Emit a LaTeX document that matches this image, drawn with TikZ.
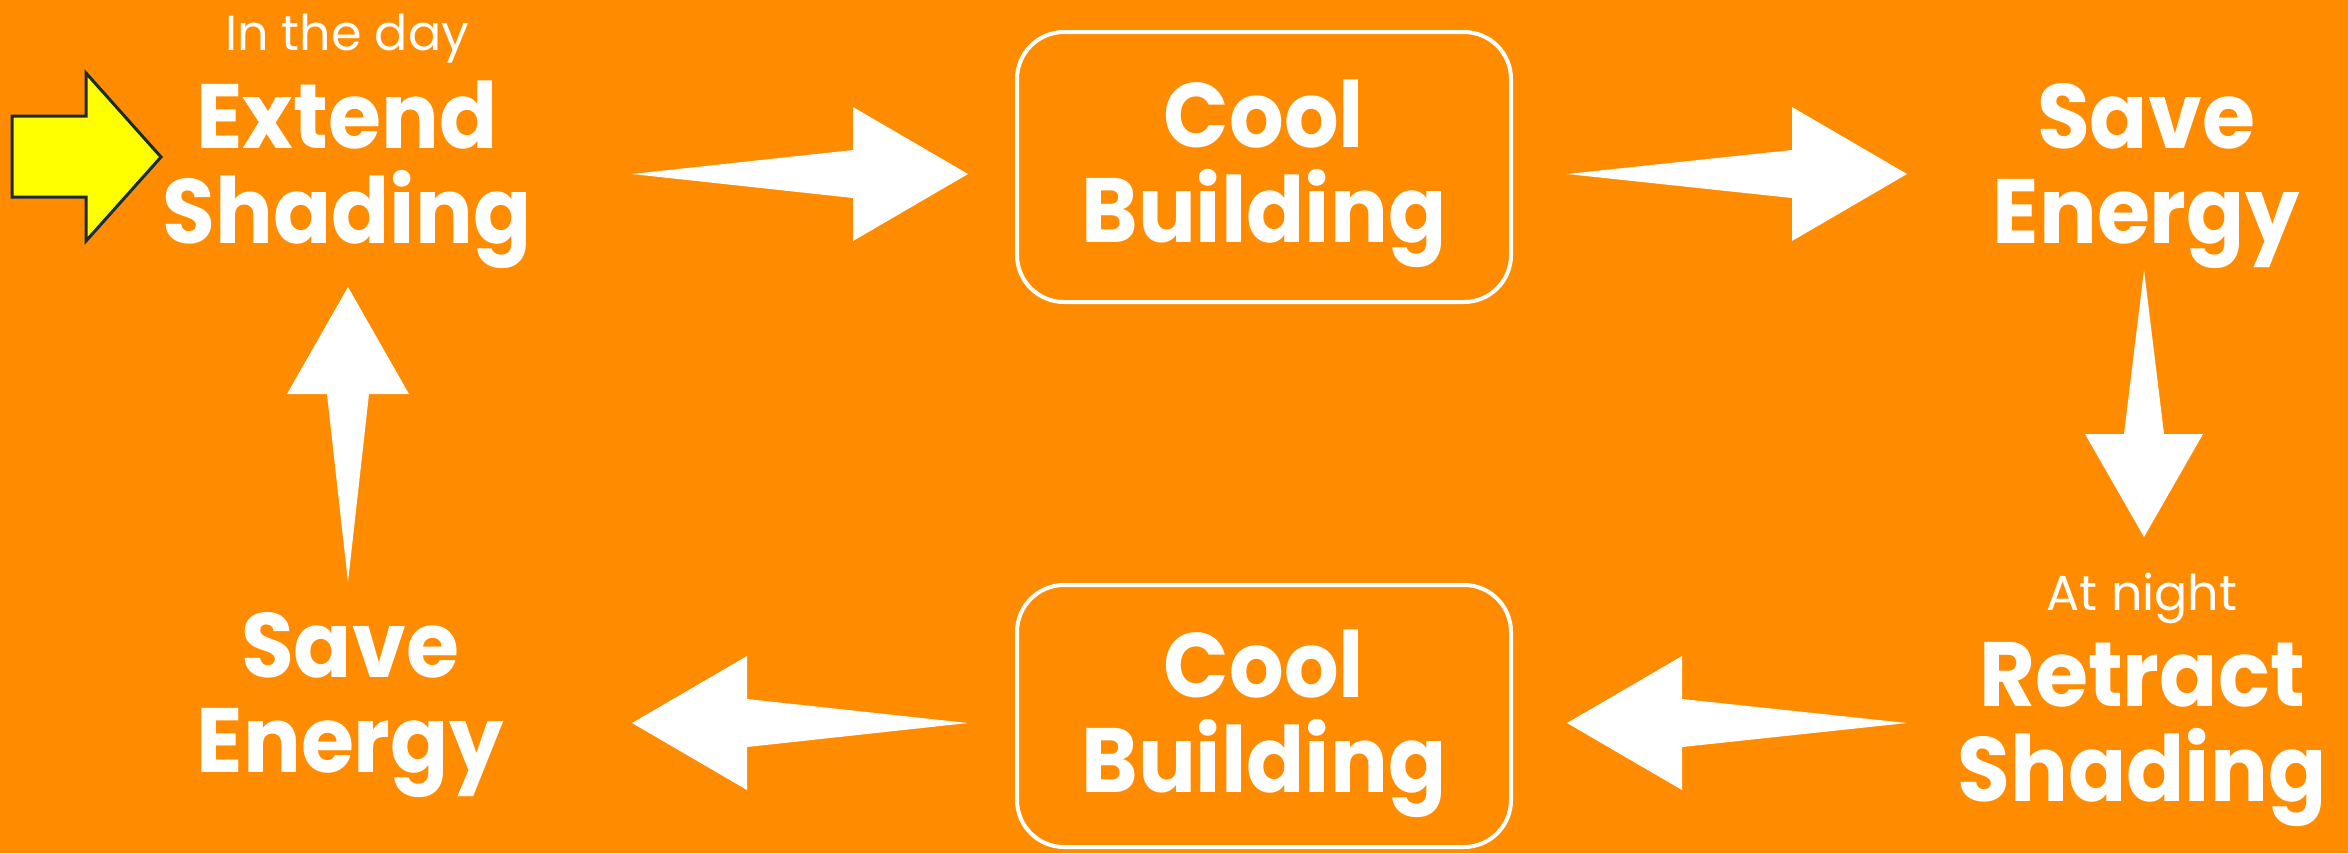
\documentclass[tikz,border=0pt]{standalone}
\usepackage{fontspec}
\setmainfont{Poppins}[BoldFeatures={FakeStretch=0.94}]
\usepackage{tikz}
\usetikzlibrary{calc}
\definecolor{dorange}{HTML}{FF8C00}
\definecolor{dyellow}{HTML}{FFFF00}
\definecolor{dnavy}{HTML}{1B2A38}

\tikzset{
  bigtxt/.style={text=white, inner sep=0pt, anchor=base,
    font=\bfseries\fontsize{26pt}{26pt}\selectfont},
  smalltxt/.style={text=white, inner sep=0pt, anchor=base,
    font=\fontsize{14pt}{14pt}\selectfont},
  coolbox/.style={draw=white, line width=0.4mm, rounded corners=4.7mm,
    minimum width=49.4mm, inner sep=0pt},
}

% fat white arrow: tail, tip, head length, shaft half width, head half width
\newcommand{\fatarrow}[5]{%
  \coordinate (hb) at ($(#2)!#3!(#1)$);
  \fill[white] (#1) -- ($(hb)!#4!90:(#2)$) -- ($(hb)!#5!90:(#2)$) -- (#2)
    -- ($(hb)!#5!-90:(#2)$) -- ($(hb)!#4!-90:(#2)$) -- cycle;}

\begin{document}
\begin{tikzpicture}[x=0.1mm,y=-0.1mm]

  % fundo
  \useasboundingbox (0,0) rectangle (2348,853);
  \fill[dorange] (0,0) rectangle (2348,853);

  % seta amarela
  \filldraw[fill=dyellow, draw=dnavy, line width=0.3mm]
    (12,116) -- (86,116) -- (86,73) -- (161,157) -- (86,241) -- (86,197) -- (12,197) -- cycle;

  % caixas
  \node[coolbox, minimum height=27mm] (cool1) at (1264,167) {};
  \node[coolbox, minimum height=26.2mm] (cool2) at (1264,716) {};

  % textos
  \node[smalltxt] (day) at (347,50) {In the day};
  \node[bigtxt] (extend) at (347,148) {Extend};
  \node[bigtxt] (shadingA) at (347,243) {Shading};
  \node[bigtxt] (coolA) at (1264,147) {Cool};
  \node[bigtxt] (buildingA) at (1264,242) {Building};
  \node[bigtxt] (save1) at (2146,148) {Save};
  \node[bigtxt] (energy1) at (2146,243) {Energy};
  \node[smalltxt] (night) at (2142,610) {At night};
  \node[bigtxt] (retract) at (2142,706) {Retract};
  \node[bigtxt] (shadingB) at (2142,801) {Shading};
  \node[bigtxt] (coolB) at (1264,697) {Cool};
  \node[bigtxt] (buildingB) at (1264,792) {Building};
  \node[bigtxt] (save2) at (350,677) {Save};
  \node[bigtxt] (energy2) at (350,772) {Energy};

  % pontas das setas
  \coordinate (a1s) at (632,174);  \coordinate (a1e) at (968,174);
  \coordinate (a2s) at (1567,174); \coordinate (a2e) at (1907,174);
  \coordinate (a3s) at (2144,270); \coordinate (a3e) at (2144,537);
  \coordinate (a4s) at (1907,723); \coordinate (a4e) at (1567,723);
  \coordinate (a5s) at (968,723);  \coordinate (a5e) at (632,723);
  \coordinate (a6s) at (348,582);  \coordinate (a6e) at (348,287);

  % setas
  \fatarrow{a1s}{a1e}{11.5mm}{2.4mm}{6.7mm}
  \fatarrow{a2s}{a2e}{11.5mm}{2.4mm}{6.7mm}
  \fatarrow{a3s}{a3e}{10.3mm}{2.0mm}{5.9mm}
  \fatarrow{a4s}{a4e}{11.5mm}{2.4mm}{6.7mm}
  \fatarrow{a5s}{a5e}{11.5mm}{2.4mm}{6.7mm}
  \fatarrow{a6s}{a6e}{10.7mm}{2.1mm}{6.1mm}

\end{tikzpicture}
\end{document}
